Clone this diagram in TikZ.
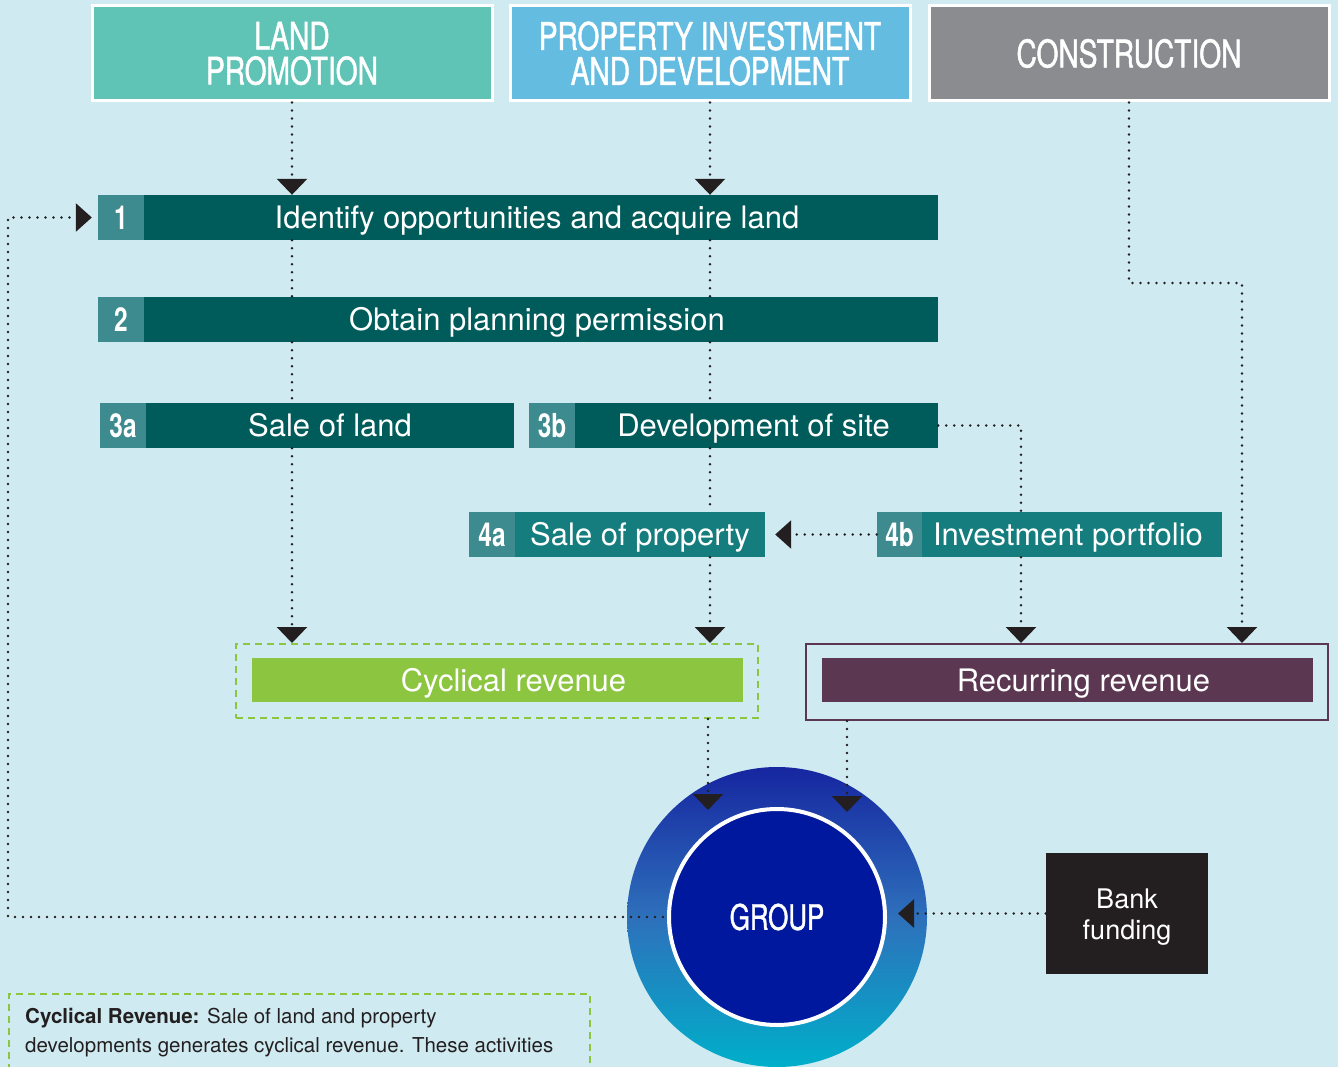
\documentclass[tikz,border=0pt]{standalone}
\usepackage{fontspec}
\setmainfont{TeX Gyre Heros}
\newfontfamily\condf[FakeStretch=0.74]{TeX Gyre Heros}
\newfontfamily\condm[FakeStretch=0.74,FakeBold=1.2]{TeX Gyre Heros}
\usetikzlibrary{arrows.meta}
\definecolor{bg}{HTML}{CFEBF1}
\definecolor{landc}{HTML}{5FC3B5}
\definecolor{propc}{HTML}{64BCE1}
\definecolor{conc}{HTML}{8B8C90}
\definecolor{barc}{HTML}{005B5B}
\definecolor{numc}{HTML}{3D8B8E}
\definecolor{bar4c}{HTML}{157D7E}
\definecolor{greenc}{HTML}{8CC540}
\definecolor{purpc}{HTML}{5C3752}
\definecolor{groupc}{HTML}{00189E}
\definecolor{ringtop}{HTML}{1626A0}
\definecolor{ringmid}{HTML}{2E70BB}
\definecolor{ringbot}{HTML}{00AFCA}
\definecolor{darkc}{HTML}{231F20}
\begin{document}
\begin{tikzpicture}[x=1pt,y=-1pt,
  topbox/.style={draw=white, line width=3pt, text=white, align=center, inner sep=0pt,
    minimum width=400pt, minimum height=95pt, font=\condm\fontsize{38}{35}\selectfont},
  numbox/.style={fill=numc, text=white, inner sep=0pt, minimum height=45pt,
    font=\condf\bfseries\fontsize{33}{33}\selectfont},
  barbox/.style={fill=barc, text=white, inner sep=0pt, minimum height=45pt,
    text height=22.3pt, text depth=0pt, font=\fontsize{31}{31}\selectfont},
  revbox/.style={text=white, inner sep=0pt, minimum height=44pt, minimum width=491pt,
    text height=22.3pt, text depth=0pt, font=\fontsize{31}{31}\selectfont},
  dotline/.style={draw=darkc, line width=2.8pt, dash pattern=on 0pt off 8pt, line cap=round},
  arr/.style={-{Triangle[width=30pt,length=16pt]}},
  harr/.style={-{Triangle[width=28pt,length=16pt]}},
  greendash/.style={draw=greenc, line width=2pt, dash pattern=on 7pt off 5pt}
]
\useasboundingbox (0,0) rectangle (1338,1067);
\fill[bg] (0,0) rectangle (1338,1067);
\clip (0,0) rectangle (1338,1067);

% top category boxes
\node[topbox, fill=landc] (land) at (292,53.5) {LAND\\PROMOTION};
\node[topbox, fill=propc] (prop) at (710,53.5) {PROPERTY INVESTMENT\\AND DEVELOPMENT};
\node[topbox, fill=conc] (con) at (1129,53.5) {CONSTRUCTION};

% step bars
\node[numbox, minimum width=46pt] (n1) at (121,217.5) {1};
\node[barbox, minimum width=794pt] (b1) at (541,217.5) {\hspace*{-8pt}Identify opportunities and acquire land};
\node[numbox, minimum width=46pt] (n2) at (121,319.5) {2};
\node[barbox, minimum width=794pt] (b2) at (541,319.5) {\hspace*{-8pt}Obtain planning permission};
\node[numbox, minimum width=46pt] (n3a) at (123,425.5) {3a};
\node[barbox, minimum width=368pt] (b3a) at (330,425.5) {Sale of land};
\node[numbox, minimum width=46pt] (n3b) at (552,425.5) {3b};
\node[barbox, minimum width=363pt] (b3b) at (756.5,425.5) {\hspace*{-6pt}Development of site};
\node[numbox, minimum width=46pt] (n4a) at (492,534.5) {4a};
\node[barbox, fill=bar4c, minimum width=250pt] (b4a) at (640,534.5) {Sale of property};
\node[numbox, minimum width=45pt] (n4b) at (899.5,534.5) {4b};
\node[barbox, fill=bar4c, minimum width=300pt] (b4b) at (1072,534.5) {\hspace*{-8pt}Investment portfolio};

% revenue boxes
\node[greendash, minimum width=522pt, minimum height=74pt, inner sep=0pt] (cycout) at (497,681) {};
\node[revbox, fill=greenc] (cyc) at (497.5,680) {\hspace*{32pt}Cyclical revenue};
\node[draw=purpc, line width=2pt, minimum width=522pt, minimum height=76pt, inner sep=0pt] (recout) at (1067,682) {};
\node[revbox, fill=purpc] (rec) at (1067.5,680) {\hspace*{32pt}Recurring revenue};

% group circle
\shade[top color=ringtop, bottom color=ringbot, middle color=ringmid] (777,917) circle[radius=150pt];
\node[circle, fill=groupc, draw=white, line width=4pt, minimum size=216pt, inner sep=0pt,
  text=white, font=\condm\fontsize{35}{35}\selectfont] (group) at (777,917) {GROUP};

% bank funding
\node[fill=darkc, minimum width=162pt, minimum height=121pt, inner sep=0pt] (bank) at (1127,913.5) {};
\node[text=white, inner sep=0pt, align=center, font=\fontsize{27}{31}\selectfont] (banktxt) at (1127,917) {Bank\\funding};

% footnote
\node[greendash, anchor=north west, minimum width=581pt, minimum height=100pt, inner sep=0pt] (fnbox) at (8,993) {};
\node[anchor=base west, inner sep=0pt, text=darkc, font=\fontsize{20.5}{29}\selectfont] (fn1) at (25,1023)
  {\textbf{Cyclical Revenue:} Sale of land and property};
\node[anchor=base west, inner sep=0pt, text=darkc, font=\fontsize{20.5}{29}\selectfont] (fn2) at (25,1052)
  {developments generates cyclical revenue. These activities};

% coordinates
\coordinate (cturn) at (1242,283);
\coordinate (vb) at (1021,425.5);
\coordinate (g1) at (708,810);
\coordinate (g2) at (847,812);
\coordinate (gl) at (663,917);
\coordinate (lcorner) at (8,917);
\coordinate (ltop) at (8,217.5);
\coordinate (gb) at (898,913.5);

% connectors: land promotion column
\draw[dotline, arr] (land.south) -- (land.south |- b1.north);
\draw[dotline] (land.south |- b1.south) -- (land.south |- b2.north);
\draw[dotline] (land.south |- b2.south) -- (land.south |- b3a.north);
\draw[dotline, arr] (land.south |- b3a.south) -- (land.south |- cycout.north);

% property column
\draw[dotline, arr] (prop.south) -- (prop.south |- b1.north);
\draw[dotline] (prop.south |- b1.south) -- (prop.south |- b2.north);
\draw[dotline] (prop.south |- b2.south) -- (prop.south |- b3b.north);
\draw[dotline] (prop.south |- b3b.south) -- (prop.south |- b4a.north);
\draw[dotline, arr] (prop.south |- b4a.south) -- (prop.south |- cycout.north);

% construction
\draw[dotline, arr] (con.south) |- (cturn) -- (cturn |- recout.north);

% 3b to 4b to recurring
\draw[dotline] (b3b.east) -- (vb) -- (vb |- b4b.north);
\draw[dotline, arr] (vb |- b4b.south) -- (vb |- recout.north);

% 4b to 4a
\draw[dotline, harr, shorten >=10pt] (n4b.west) -- (b4a.east);

% revenue to group
\draw[dotline, arr] (g1 |- cycout.south) -- (g1);
\draw[dotline, arr] (g2 |- recout.south) -- (g2);

% group loop back to step 1
\draw[dotline, harr, shorten >=6pt] (gl) -- (lcorner) -- (ltop) -- (n1.west);

% bank funding
\draw[dotline, harr] (bank.west) -- (gb);
\end{tikzpicture}
\end{document}
